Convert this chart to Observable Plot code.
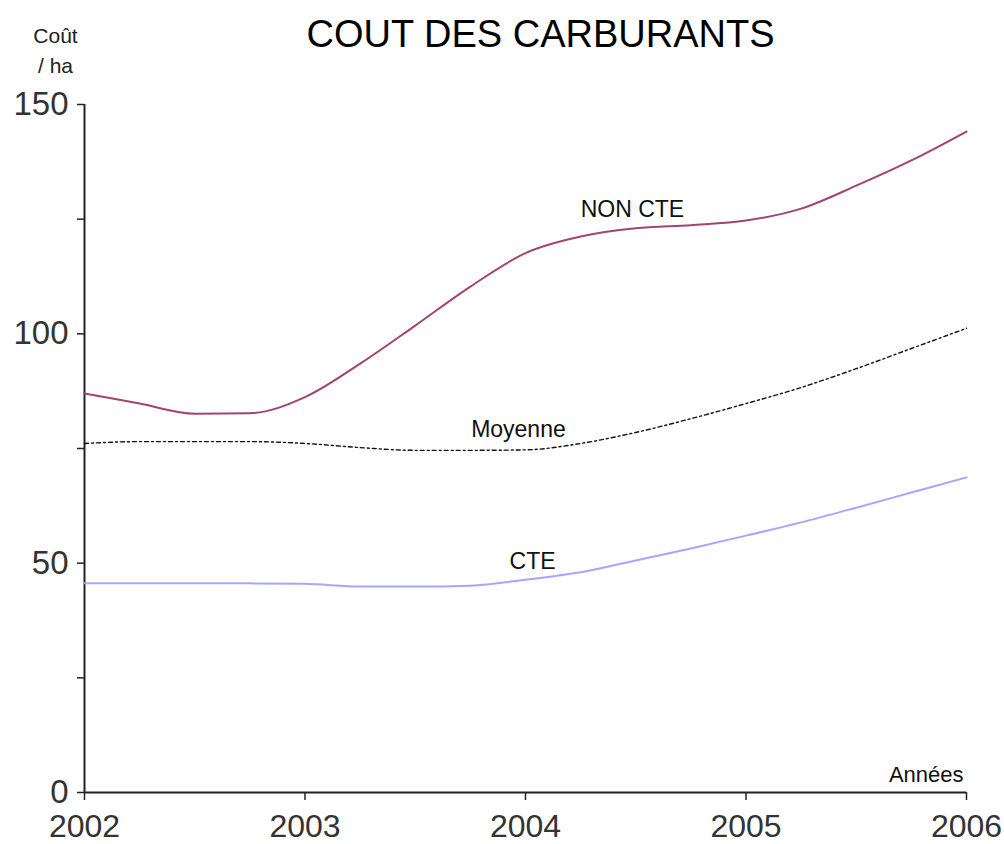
<!DOCTYPE html>
<html>
<head>
<meta charset="utf-8">
<script src="https://cdn.jsdelivr.net/npm/d3@7"></script>
<script src="https://cdn.jsdelivr.net/npm/@observablehq/plot@0.6"></script>
<style>
  html, body { margin: 0; padding: 0; background: #fff; }
  #chart { position: relative; width: 1004px; height: 844px; }
</style>
</head>
<body>
<div id="chart"></div>
<script>
// ---- data ----
const years   = [2002, 2002.25, 2002.5, 2002.75, 2003, 2003.25, 2003.5, 2003.75, 2004, 2004.25, 2004.5, 2004.75, 2005, 2005.25, 2005.5, 2005.75, 2006];
const nonCte  = [87.0, 84.8, 82.6, 82.7, 86.2, 93.5, 101.8, 110.3, 117.6, 121.2, 123.0, 123.7, 124.7, 127.3, 132.3, 137.8, 144.1];
const moyenne = [76.1, 76.5, 76.5, 76.5, 76.1, 75.2, 74.6, 74.6, 74.7, 76.1, 78.5, 81.5, 84.8, 88.3, 92.4, 96.8, 101.2];
const cte     = [45.6, 45.6, 45.6, 45.6, 45.5, 44.9, 44.9, 45.1, 46.4, 48.0, 50.6, 53.2, 56.0, 58.9, 62.1, 65.4, 68.7];
const xTicks  = [2002, 2003, 2004, 2005, 2006];
const yTicks  = [0, 25, 50, 75, 100, 125, 150];
const yLabelled = [0, 50, 100, 150];
const title = "COUT DES CARBURANTS";
const yTitle = ["Coût", "/ ha"];
const xTitle = "Années";
const seriesNames = ["NON CTE", "Moyenne", "CTE"];

const toRows = (vals, name) => years.map((x, i) => ({x, y: vals[i], name}));
const rowsNon = toRows(nonCte, seriesNames[0]);
const rowsMoy = toRows(moyenne, seriesNames[1]);
const rowsCte = toRows(cte, seriesNames[2]);

const font = "Arial, 'Liberation Sans', Helvetica, sans-serif";

const chart = Plot.plot({
  width: 1004,
  height: 844,
  marginLeft: 84,
  marginRight: 38,
  marginTop: 104,
  marginBottom: 52,
  style: {fontFamily: font, fontSize: "33px", background: "#fff", color: "#333", overflow: "visible"},
  x: {domain: [2002, 2006]},
  y: {domain: [0, 150]},
  marks: [
    // axes
    Plot.axisY(yTicks, {
      tickSize: 7, tickPadding: 9, stroke: "#222", strokeWidth: 1.5,
      tickFormat: d => yLabelled.includes(d) ? String(d) : "",
      fill: "#333", label: null, fontSize: 33
    }),
    Plot.axisX(xTicks, {
      tickSize: 8, tickPadding: 14, stroke: "#222", strokeWidth: 1.5,
      tickFormat: d => String(d), fill: "#333", label: null, fontSize: 32
    }),
    Plot.ruleX([2002], {stroke: "#222", strokeWidth: 2}),
    Plot.ruleY([0], {stroke: "#222", strokeWidth: 2}),
    // series
    Plot.line(rowsCte, {x: "x", y: "y", stroke: "#a6a6ff", strokeWidth: 2, curve: "monotone-x"}),
    Plot.line(rowsMoy, {x: "x", y: "y", stroke: "#111", strokeWidth: 1.4, strokeDasharray: "4,3,2,3", curve: "monotone-x"}),
    Plot.line(rowsNon, {x: "x", y: "y", stroke: "#a3446f", strokeWidth: 2, curve: "monotone-x"}),
    // series labels
    Plot.text([seriesNames[0]], {x: 2004.485, y: 125.4, text: d => d, lineAnchor: "bottom", textAnchor: "middle", fontSize: 23, fill: "#111"}),
    Plot.text([seriesNames[1]], {x: 2003.968, y: 77.4, text: d => d, lineAnchor: "bottom", textAnchor: "middle", fontSize: 23, fill: "#111"}),
    Plot.text([seriesNames[2]], {x: 2004.032, y: 48.8, text: d => d, lineAnchor: "bottom", textAnchor: "middle", fontSize: 23, fill: "#111"}),
    Plot.text([xTitle], {x: 2006, y: 2.2, dx: -3, text: d => d, lineAnchor: "bottom", textAnchor: "end", fontSize: 22, fill: "#111"}),
    // titles
    Plot.text([title], {frameAnchor: "top", dx: 15, dy: -58, text: d => d, lineAnchor: "bottom", fontSize: 38, fill: "#000"}),
    Plot.text([yTitle[0]], {frameAnchor: "top-left", dx: -29, dy: -62, text: d => d, lineAnchor: "bottom", textAnchor: "middle", fontSize: 21, fill: "#222"}),
    Plot.text([yTitle[1]], {frameAnchor: "top-left", dx: -29, dy: -32, text: d => d, lineAnchor: "bottom", textAnchor: "middle", fontSize: 21, fill: "#222"})
  ]
});
document.getElementById("chart").appendChild(chart);
</script>
</body>
</html>
